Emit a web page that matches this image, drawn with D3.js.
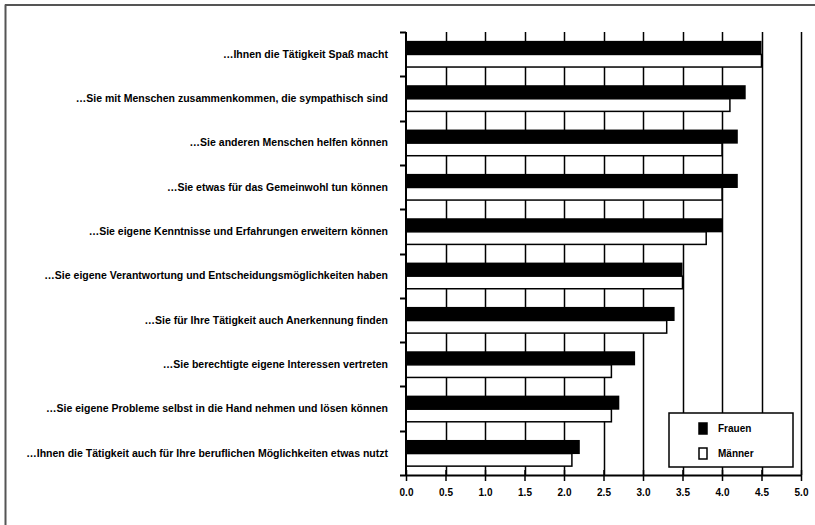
<!DOCTYPE html>
<html><head><meta charset="utf-8">
<script src="https://cdn.jsdelivr.net/npm/d3@7"></script>
<style>body{margin:0;background:#fff}svg{display:block}</style>
</head><body><svg id="c" width="815" height="525"></svg>
<script>
const categories = [
  "…Ihnen die Tätigkeit Spaß macht",
  "…Sie mit Menschen zusammenkommen, die sympathisch sind",
  "…Sie anderen Menschen helfen können",
  "…Sie etwas für das Gemeinwohl tun können",
  "…Sie eigene Kenntnisse und Erfahrungen erweitern können",
  "…Sie eigene Verantwortung und Entscheidungsmöglichkeiten haben",
  "…Sie für Ihre Tätigkeit auch Anerkennung finden",
  "…Sie berechtigte eigene Interessen vertreten",
  "…Sie eigene Probleme selbst in die Hand nehmen und lösen können",
  "…Ihnen die Tätigkeit auch für Ihre beruflichen Möglichkeiten etwas nutzt"
];
const frauen = [4.5, 4.3, 4.2, 4.2, 4.0, 3.5, 3.4, 2.9, 2.7, 2.2];
const maenner = [4.5, 4.1, 4.0, 4.0, 3.8, 3.5, 3.3, 2.6, 2.6, 2.1];
const seriesNames = ["Frauen", "Männer"];
const tickValues = [0, 0.5, 1, 1.5, 2, 2.5, 3, 3.5, 4, 4.5, 5];

const svg = d3.select("#c");
const pL = 406, pR = 801, pT = 32, pB = 475;
const x = d3.scaleLinear().domain([0, 5]).range([pL, pR]);
const y = d3.scaleBand().domain(categories).range([pT, pB]).paddingInner(0.41).paddingOuter(0.2);
const sub = d3.scaleBand().domain(seriesNames).range([0, y.bandwidth()]);

// frame
svg.append("line").attr("x1",5.5).attr("x2",5.5).attr("y1",4.5).attr("y2",525).attr("stroke","#555").attr("stroke-width",2);
svg.append("line").attr("x1",5).attr("x2",815).attr("y1",5).attr("y2",5).attr("stroke","#555").attr("stroke-width",2);

// gridlines
svg.append("g").selectAll("line").data(tickValues.filter(d => d > 0)).join("line")
  .attr("x1", d => Math.round(x(d)) + 0.5).attr("x2", d => Math.round(x(d)) + 0.5)
  .attr("y1", pT).attr("y2", pB).attr("stroke", "#000").attr("stroke-width", 1.5);

// bars
const g = svg.append("g");
categories.forEach((c, i) => {
  g.append("rect").attr("x", x(0)).attr("y", y(c) + sub("Frauen"))
    .attr("width", x(frauen[i]) - x(0)).attr("height", sub.bandwidth() + 1)
    .attr("fill", "#000");
  g.append("rect").attr("x", x(0)).attr("y", y(c) + sub("Männer") + 0.5)
    .attr("width", x(maenner[i]) - x(0)).attr("height", sub.bandwidth() - 0.5)
    .attr("fill", "#fff").attr("stroke", "#000").attr("stroke-width", 1.5);
});

// y axis
const yTicks = d3.range(categories.length + 1).map(i => pT + i * (pB - pT) / categories.length);
svg.append("line").attr("x1", pL).attr("x2", pL).attr("y1", pT).attr("y2", pB).attr("stroke", "#000").attr("stroke-width", 2);
svg.append("g").selectAll("line").data(yTicks).join("line")
  .attr("x1", pL - 6).attr("x2", pL).attr("y1", d => Math.round(d) + 0.5).attr("y2", d => Math.round(d) + 0.5)
  .attr("stroke", "#000").attr("stroke-width", 2);
svg.append("g").selectAll("text").data(categories).join("text")
  .attr("x", 388).attr("y", d => y(d) + y.bandwidth() / 2).attr("dy", "0.35em")
  .attr("text-anchor", "end").attr("font-family", "Liberation Sans, sans-serif")
  .attr("font-size", 10.5).attr("font-weight", "bold").attr("fill", "#000").text(d => d);

// x axis
const xAxis = d3.axisBottom(x).tickValues(tickValues).tickFormat(d3.format(".1f")).tickSize(6).tickSizeOuter(0);
const xa = svg.append("g").attr("transform", `translate(0,${pB})`).call(xAxis);
xa.select(".domain").attr("stroke", "#000").attr("stroke-width", 2);
xa.selectAll(".tick line").attr("stroke", "#000").attr("stroke-width", 1.5).attr("y1", -5).attr("y2", 6);
xa.selectAll(".tick text").attr("y", 14).attr("font-family", "Liberation Sans, sans-serif")
  .attr("font-size", 10).attr("font-weight", "bold").attr("fill", "#000");

// legend
const lg = svg.append("g");
lg.append("rect").attr("x", 669).attr("y", 413).attr("width", 124).attr("height", 54)
  .attr("fill", "#fff").attr("stroke", "#000").attr("stroke-width", 1.5);
seriesNames.forEach((s, i) => {
  const yy = 423 + i * 25;
  lg.append("rect").attr("x", 699).attr("y", yy).attr("width", 8).attr("height", 11)
    .attr("fill", i === 0 ? "#000" : "#fff").attr("stroke", "#000").attr("stroke-width", 1.5);
  lg.append("text").attr("x", 718).attr("y", yy + 5.5).attr("dy", "0.35em")
    .attr("font-family", "Liberation Sans, sans-serif").attr("font-size", 10).attr("font-weight", "bold").attr("fill", "#000").text(s);
});
</script></body></html>
